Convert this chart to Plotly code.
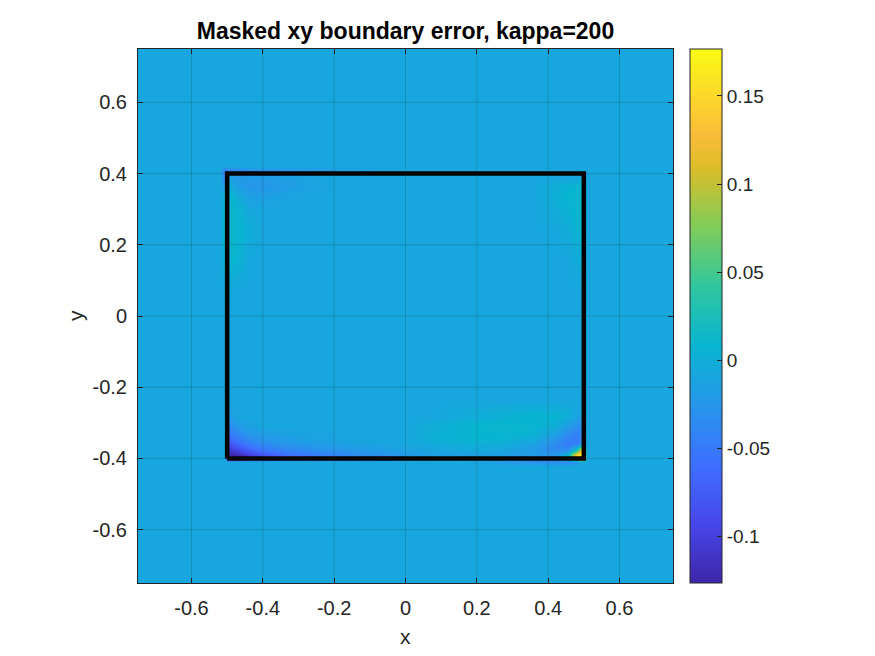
import plotly.graph_objects as go

# ---------------- data ----------------
title_text = "Masked xy boundary error, kappa=200"
background = -0.008

grid_x = [-0.75, -0.52, -0.51, -0.498, -0.485, -0.465, -0.44, -0.40, -0.34, -0.25, -0.15, 0.0,
          0.08, 0.18, 0.28, 0.36, 0.42, 0.455, 0.48, 0.492, 0.499, 0.51, 0.52, 0.75]
grid_y = [-0.75, -0.42, -0.41, -0.398, -0.39, -0.375, -0.36, -0.34, -0.31, -0.28, -0.24, 0.0,
          0.08, 0.16, 0.24, 0.30, 0.34, 0.365, 0.385, 0.398, 0.41, 0.42, 0.75]

# nodes where the error differs from the background value, grouped by row: (y, [(x, value), ...])
rows = [
    (-0.41, [(0.28, -0.02), (0.36, -0.03), (0.42, -0.035), (0.455, -0.035), (0.48, -0.03)]),
    (-0.398, [(-0.498, -0.13), (-0.485, -0.13), (-0.465, -0.125), (-0.44, -0.11), (-0.40, -0.09),
              (-0.34, -0.07), (-0.25, -0.056), (-0.15, -0.043), (0.0, -0.028), (0.08, -0.022),
              (0.18, -0.02), (0.28, -0.022), (0.36, -0.026), (0.42, -0.025), (0.455, 0.02),
              (0.48, 0.16), (0.492, 0.176), (0.499, 0.176)]),
    (-0.39, [(-0.498, -0.128), (-0.485, -0.125), (-0.465, -0.118), (-0.44, -0.102), (-0.40, -0.08),
             (-0.34, -0.06), (-0.25, -0.047), (-0.15, -0.035), (0.0, -0.022), (0.08, -0.017),
             (0.18, -0.015), (0.28, -0.017), (0.36, -0.02), (0.42, -0.025), (0.455, 0.01),
             (0.48, 0.15), (0.492, 0.176), (0.499, 0.17)]),
    (-0.375, [(-0.498, -0.11), (-0.485, -0.102), (-0.465, -0.09), (-0.44, -0.072), (-0.40, -0.055),
              (-0.34, -0.042), (-0.25, -0.032), (-0.15, -0.023), (0.0, -0.014), (0.08, -0.01),
              (0.18, -0.006), (0.28, -0.01), (0.36, -0.02), (0.42, -0.035), (0.455, -0.03),
              (0.48, 0.03), (0.492, 0.12), (0.499, 0.12)]),
    (-0.36, [(-0.498, -0.085), (-0.485, -0.075), (-0.465, -0.062), (-0.44, -0.048), (-0.40, -0.035),
             (-0.34, -0.026), (-0.25, -0.019), (-0.15, -0.014), (0.08, -0.004), (0.18, 0.002),
             (0.28, -0.002), (0.36, -0.014), (0.42, -0.035), (0.455, -0.048), (0.48, -0.045),
             (0.492, -0.02), (0.499, -0.01)]),
    (-0.34, [(-0.498, -0.06), (-0.485, -0.05), (-0.465, -0.04), (-0.44, -0.03), (-0.40, -0.022),
             (-0.34, -0.016), (-0.25, -0.012), (0.08, 0.003), (0.18, 0.008), (0.28, 0.008),
             (0.36, 0.0), (0.42, -0.02), (0.455, -0.042), (0.48, -0.048), (0.492, -0.04),
             (0.499, -0.035)]),
    (-0.31, [(-0.498, -0.038), (-0.485, -0.03), (-0.465, -0.02), (-0.44, -0.013), (0.08, 0.0),
             (0.18, 0.008), (0.28, 0.01), (0.36, 0.009), (0.42, 0.0), (0.455, -0.02),
             (0.48, -0.03), (0.492, -0.03), (0.499, -0.025)]),
    (-0.28, [(-0.498, -0.02), (-0.485, -0.013), (0.18, -0.002), (0.28, 0.004), (0.36, 0.008),
             (0.42, 0.007), (0.455, 0.0), (0.48, -0.01), (0.492, -0.014), (0.499, -0.014)]),
    (0.08, [(-0.498, 0.002)]),
    (0.16, [(-0.51, 0.006), (-0.498, 0.01), (-0.485, 0.009), (-0.465, 0.003), (0.48, -0.002),
            (0.492, 0.002), (0.499, 0.003)]),
    (0.24, [(-0.51, 0.012), (-0.498, 0.012), (-0.485, 0.011), (-0.465, 0.008), (-0.44, 0.0),
            (0.455, -0.002), (0.48, 0.006), (0.492, 0.009), (0.499, 0.008)]),
    (0.30, [(-0.51, 0.012), (-0.498, 0.012), (-0.485, 0.01), (-0.465, 0.005), (0.42, -0.002),
            (0.455, 0.005), (0.48, 0.01), (0.492, 0.011), (0.499, 0.01)]),
    (0.34, [(-0.51, 0.002), (-0.498, 0.011), (-0.485, 0.006), (-0.44, -0.016), (-0.40, -0.018),
            (-0.34, -0.012), (0.42, 0.002), (0.455, 0.008), (0.48, 0.01), (0.492, 0.011),
            (0.499, 0.01)]),
    (0.365, [(-0.51, -0.02), (-0.498, 0.006), (-0.485, -0.01), (-0.465, -0.02), (-0.44, -0.024),
             (-0.40, -0.024), (-0.34, -0.02), (-0.25, -0.012), (0.42, 0.0), (0.455, 0.006),
             (0.48, 0.008), (0.492, 0.009), (0.499, 0.008)]),
    (0.385, [(-0.51, -0.035), (-0.498, -0.01), (-0.485, -0.016), (-0.465, -0.02), (-0.44, -0.02),
             (-0.40, -0.02), (-0.34, -0.016), (-0.25, -0.01), (0.492, 0.002), (0.499, 0.002)]),
    (0.398, [(-0.51, -0.04), (-0.498, -0.03), (-0.485, -0.025), (-0.465, -0.02), (-0.44, -0.018),
             (-0.40, -0.016), (-0.34, -0.014)]),
    (0.41, [(-0.51, -0.045), (-0.498, -0.04), (-0.485, -0.04), (-0.465, -0.035), (-0.44, -0.03),
            (-0.40, -0.028), (-0.34, -0.025), (-0.25, -0.02), (-0.15, -0.015)]),
]

rect_x = [-0.5, 0.5, 0.5, -0.5, -0.5]
rect_y = [-0.4, -0.4, 0.4, 0.4, -0.4]

tick_vals = [-0.6, -0.4, -0.2, 0, 0.2, 0.4, 0.6]
tick_text = ["-0.6", "-0.4", "-0.2", "0", "0.2", "0.4", "0.6"]
cb_vals = [-0.1, -0.05, 0, 0.05, 0.1, 0.15]
cb_text = ["-0.1", "-0.05", "0", "0.05", "0.1", "0.15"]
z_min, z_max = -0.1262, 0.1766
axis_range = [-0.75, 0.75]

# --------------- build field ----------------
lookup = {}
for yy, pts in rows:
    for xx, vv in pts:
        lookup[(round(xx, 4), round(yy, 4))] = vv
z = [[lookup.get((round(x, 4), round(y, 4)), background) for x in grid_x] for y in grid_y]

parula = [
    [0.0, "rgb(62,38,168)"],
    [0.111, "rgb(71,71,235)"],
    [0.222, "rgb(62,111,255)"],
    [0.333, "rgb(39,150,235)"],
    [0.444, "rgb(8,181,208)"],
    [0.556, "rgb(49,198,159)"],
    [0.667, "rgb(129,204,89)"],
    [0.778, "rgb(220,189,41)"],
    [0.84, "rgb(250,188,58)"],
    [0.889, "rgb(252,207,48)"],
    [1.0, "rgb(249,251,21)"],
]

FONT = "Liberation Sans, Arial, Helvetica, sans-serif"
TXT = "#262626"

fig = go.Figure()
fig.add_trace(go.Heatmap(
    x=grid_x, y=grid_y, z=z, zsmooth="best", colorscale=parula,
    zmin=z_min, zmax=z_max, hoverinfo="skip",
    colorbar=dict(
        x=1.0318, xanchor="left", xpad=0, y=0.5, yanchor="middle", ypad=0,
        len=1.0, lenmode="fraction", thickness=32, thicknessmode="pixels",
        outlinewidth=1, outlinecolor=TXT,
        tickmode="array", tickvals=cb_vals, ticktext=cb_text,
        ticks="inside", ticklen=5, tickwidth=1, tickcolor=TXT,
        tickfont=dict(family=FONT, size=19, color=TXT),
    ),
))
fig.add_trace(go.Scatter(
    x=rect_x, y=rect_y, mode="lines",
    line=dict(color="black", width=4.5), hoverinfo="skip", showlegend=False,
))

for v in tick_vals:
    fig.add_shape(type="line", xref="x", yref="y", x0=v, x1=v, y0=axis_range[0], y1=axis_range[1],
                  line=dict(color="rgba(38,38,38,0.18)", width=1), layer="above")
    fig.add_shape(type="line", xref="x", yref="y", y0=v, y1=v, x0=axis_range[0], x1=axis_range[1],
                  line=dict(color="rgba(38,38,38,0.18)", width=1), layer="above")

axis_common = dict(
    range=axis_range, tickmode="array", tickvals=tick_vals, ticktext=tick_text,
    ticks="inside", ticklen=5, tickwidth=1, tickcolor=TXT,
    showline=True, linecolor=TXT, linewidth=1, mirror="ticks",
    showgrid=False, zeroline=False, layer="above traces",
    tickfont=dict(family=FONT, size=20, color=TXT),
)
fig.update_xaxes(**axis_common, ticklabelstandoff=7)
fig.update_yaxes(**axis_common, ticklabelstandoff=6)

fig.update_layout(
    width=875, height=656, autosize=False,
    margin=dict(l=138, r=202, t=49, b=73, pad=0),
    paper_bgcolor="white", plot_bgcolor="white",
    showlegend=False,
    title=dict(text="<b>" + title_text + "</b>", x=0.5, xref="paper", xanchor="center",
               y=1 - 31 / 656, yref="container", yanchor="middle",
               font=dict(family=FONT, size=23, color="black")),
    annotations=[
        dict(text="x", xref="paper", yref="paper", x=0.5, y=(583 - 636) / 534,
             xanchor="center", yanchor="middle", showarrow=False,
             font=dict(family=FONT, size=21, color=TXT)),
        dict(text="y", xref="paper", yref="paper", x=(75 - 138) / 535, y=0.5, textangle=-90,
             xanchor="center", yanchor="middle", showarrow=False,
             font=dict(family=FONT, size=21, color=TXT)),
    ],
)

fig.write_html("out.html")
